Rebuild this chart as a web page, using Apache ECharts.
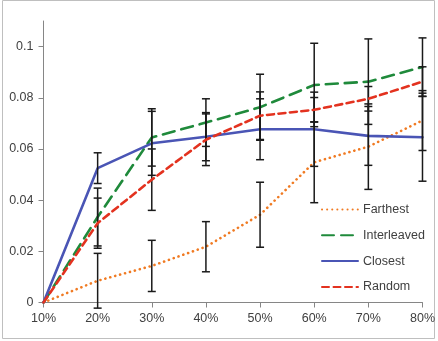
<!DOCTYPE html>
<html>
<head>
<meta charset="utf-8">
<script src="https://cdn.jsdelivr.net/npm/echarts@6/dist/echarts.min.js"></script>
<style>
html,body{margin:0;padding:0;background:#fff;}
#c{width:438px;height:341px;}
</style>
</head>
<body>
<div id="c"></div>
<script>
var categories = ['10%','20%','30%','40%','50%','60%','70%','80%'];
var yTicks = [0, 0.02, 0.04, 0.06, 0.08, 0.1];

var farthest       = [0, 0.0085, 0.0143, 0.0218, 0.0343, 0.0548, 0.0609, 0.0711];
var farthestErr    = [0, 0.0107, 0.0100, 0.0098, 0.0127, 0.0158, 0.0167, 0.0117];
var interleaved    = [0, 0.0334, 0.0645, 0.0703, 0.0763, 0.0850, 0.0863, 0.0920];
var interleavedErr = [0, 0.0113, 0.0112, 0.0093, 0.0129, 0.0163, 0.0167, 0.0114];
var closest        = [0, 0.0525, 0.0622, 0.0648, 0.0677, 0.0677, 0.0651, 0.0646];
var closestErr     = [0, 0.0060, 0.0125, 0.0094, 0.0119, 0.0145, 0.0115, 0.0172];
var random         = [0, 0.0310, 0.0480, 0.0636, 0.0730, 0.0753, 0.0796, 0.0863];
var randomErr      = [0, 0.0098, 0.0120, 0.0101, 0.0093, 0.0048, 0.0048, 0.0058];

var FONT = 'Liberation Sans';
var TXT = '#404040';

function errData(vals, errs) {
  return vals.map(function (v, i) { return [i, v, errs[i]]; });
}
function errSeries(name, vals, errs) {
  return {
    type: 'custom',
    name: name + ' err',
    z: 5,
    silent: true,
    data: errData(vals, errs),
    encode: { x: 0, y: 1 },
    renderItem: function (params, api) {
      var x = api.value(0), v = api.value(1), e = api.value(2);
      if (!e) return null;
      var hi = api.coord([x, v + e]);
      var lo = api.coord([x, v - e]);
      var w = 4;
      var st = { stroke: '#1a1a1a', lineWidth: 1.5 };
      return {
        type: 'group',
        children: [
          { type: 'line', shape: { x1: hi[0], y1: hi[1], x2: lo[0], y2: lo[1] }, style: st },
          { type: 'line', shape: { x1: hi[0] - w, y1: hi[1], x2: hi[0] + w, y2: hi[1] }, style: st },
          { type: 'line', shape: { x1: lo[0] - w, y1: lo[1], x2: lo[0] + w, y2: lo[1] }, style: st }
        ]
      };
    }
  };
}
function lineSeries(name, vals, color, type, z) {
  return {
    type: 'line',
    name: name,
    data: vals,
    symbol: 'none',
    z: z,
    lineStyle: { color: color, width: 2.6, type: type, cap: 'round' },
    itemStyle: { color: color }
  };
}

var chart = echarts.init(document.getElementById('c'), null, { renderer: 'canvas' });
chart.setOption({
  animation: false,
  backgroundColor: '#fff',
  graphic: [{
    type: 'rect',
    shape: { x: 2.5, y: 0.5, width: 432, height: 338 },
    style: { fill: 'none', stroke: '#bfbfbf', lineWidth: 1 },
    silent: true
  }],
  grid: { left: 43.5, right: 14.5, top: 21, bottom: 38.5 },
  legend: {
    data: ['Farthest', 'Interleaved', 'Closest', 'Random'],
    orient: 'vertical',
    left: 316,
    top: 198,
    padding: [5, 5, 5, 5],
    itemWidth: 36,
    itemHeight: 14,
    itemGap: 12.8,
    itemStyle: { opacity: 0 },
    textStyle: { fontFamily: FONT, fontSize: 12.5, color: TXT }
  },
  xAxis: {
    type: 'category',
    data: categories,
    boundaryGap: false,
    axisLine: { lineStyle: { color: '#868686', width: 1 } },
    axisTick: { show: true, length: 5, lineStyle: { color: '#868686' } },
    axisLabel: { fontFamily: FONT, fontSize: 12.5, color: TXT, margin: 10 },
    splitLine: { show: false }
  },
  yAxis: {
    type: 'value',
    min: 0,
    max: 0.11,
    interval: 0.02,
    axisLine: { show: true, lineStyle: { color: '#868686', width: 1 } },
    axisTick: { show: true, length: 5, lineStyle: { color: '#868686' }, customValues: yTicks },
    axisLabel: { fontFamily: FONT, fontSize: 12.5, color: TXT, margin: 10, customValues: yTicks,
      formatter: function (v) { return String(+v.toFixed(2)); } },
    splitLine: { show: false }
  },
  series: [
    lineSeries('Farthest', farthest, '#f07a22', [0.1, 5], 2),
    lineSeries('Interleaved', interleaved, '#1f8a3b', [12, 7], 3),
    lineSeries('Closest', closest, '#4a55b5', 'solid', 4),
    lineSeries('Random', random, '#e3321f', [7, 4.5], 5),
    errSeries('Farthest', farthest, farthestErr),
    errSeries('Interleaved', interleaved, interleavedErr),
    errSeries('Closest', closest, closestErr),
    errSeries('Random', random, randomErr)
  ]
});
</script>
</body>
</html>
